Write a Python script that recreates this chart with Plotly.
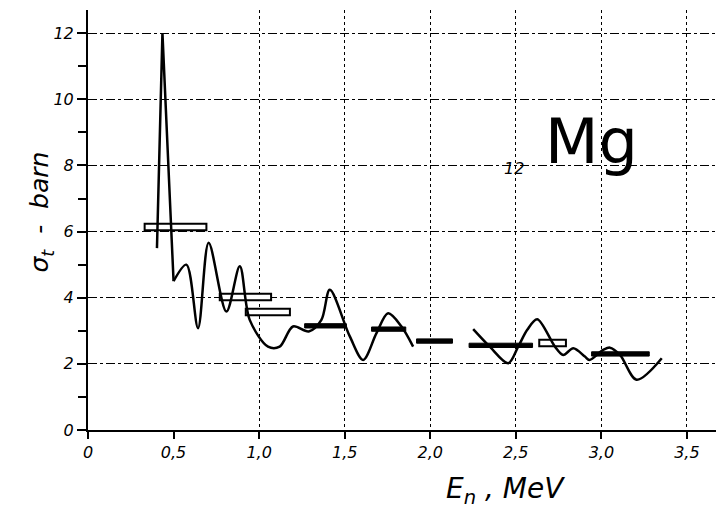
import plotly.graph_objects as go

# Spike (linear segment)
spike_x = [0.403, 0.435, 0.50]
spike_y = [5.5, 12.0, 4.5]

# First smooth curve
curve1_x = [0.50, 0.575, 0.643, 0.705, 0.809, 0.887, 0.945, 1.052, 1.12, 1.198, 1.29, 1.364, 1.413, 1.53, 1.608, 1.686, 1.754, 1.832, 1.90]
curve1_y = [4.5, 5.0, 3.08, 5.66, 3.58, 4.95, 3.33, 2.52, 2.52, 3.13, 2.98, 3.33, 4.24, 2.83, 2.12, 2.93, 3.53, 3.13, 2.52]

# Second smooth curve
curve2_x = [2.251, 2.348, 2.456, 2.514, 2.567, 2.625, 2.729, 2.777, 2.836, 2.904, 2.93, 3.011, 3.05, 3.109, 3.206, 3.353]
curve2_y = [3.05, 2.52, 2.02, 2.52, 3.03, 3.35, 2.52, 2.27, 2.47, 2.22, 2.12, 2.42, 2.49, 2.27, 1.52, 2.17]

# Averaged values (horizontal bars)
hollow_start = [0.331, 0.77, 0.922, 2.637]
hollow_end = [0.692, 1.07, 1.18, 2.793]
hollow_value = [6.14, 4.02, 3.57, 2.63]

filled_start = [1.266, 1.657, 1.92, 2.227, 2.943]
filled_end = [1.51, 1.857, 2.13, 2.598, 3.28]
filled_value = [3.15, 3.05, 2.69, 2.56, 2.30]

y_tickvals = [0, 2, 4, 6, 8, 10, 12]
y_ticktext = ["0", "2", "4", "6", "8", "10", "12"]
x_tickvals = [0, 0.5, 1.0, 1.5, 2.0, 2.5, 3.0, 3.5]
x_ticktext = ["0", "0,5", "1,0", "1,5", "2,0", "2,5", "3,0", "3,5"]
x_gridvals = [1.0, 1.5, 2.0, 2.5, 3.0, 3.5]

fig = go.Figure()

fig.add_trace(go.Bar(
    orientation="h",
    y=hollow_value,
    x=[e - s for s, e in zip(hollow_start, hollow_end)],
    base=hollow_start,
    width=0.2,
    marker=dict(color="white", line=dict(color="black", width=2)),
    showlegend=False,
))
fig.add_trace(go.Bar(
    orientation="h",
    y=filled_value,
    x=[e - s for s, e in zip(filled_start, filled_end)],
    base=filled_start,
    width=0.13,
    marker=dict(color="black", line=dict(color="black", width=1)),
    showlegend=False,
))

line_style = dict(color="black", width=2.5)
fig.add_trace(go.Scatter(x=spike_x, y=spike_y, mode="lines", line=line_style, showlegend=False))
fig.add_trace(go.Scatter(x=curve1_x, y=curve1_y, mode="lines",
                         line=dict(color="black", width=2.5, shape="spline", smoothing=0.9),
                         showlegend=False))
fig.add_trace(go.Scatter(x=curve2_x, y=curve2_y, mode="lines",
                         line=dict(color="black", width=2.5, shape="spline", smoothing=0.9),
                         showlegend=False))

tick_font = dict(family="DejaVu Sans", size=16, color="black", style="italic")

fig.update_layout(
    width=716, height=522,
    margin=dict(l=88, r=0, t=10, b=92),
    plot_bgcolor="white", paper_bgcolor="white",
    barmode="overlay",
    showlegend=False,
    xaxis=dict(
        range=[0, 3.67],
        tickvals=x_tickvals, ticktext=x_ticktext,
        ticks="outside", ticklen=7, tickwidth=2, tickcolor="black",
        showline=True, linecolor="black", linewidth=2,
        showgrid=False, zeroline=False,
        tickfont=tick_font,
        minor=dict(tickvals=x_gridvals, showgrid=True, gridcolor="black",
                   griddash="dot", gridwidth=1, ticks=""),
    ),
    yaxis=dict(
        range=[0, 12.7],
        tickvals=y_tickvals, ticktext=y_ticktext,
        ticks="outside", ticklen=9, tickwidth=2, tickcolor="black",
        showline=True, linecolor="black", linewidth=2,
        showgrid=True, gridcolor="black", griddash="dashdot", gridwidth=1.2,
        zeroline=False,
        tickfont=tick_font,
        minor=dict(dtick=1, ticks="outside", ticklen=8, tickwidth=2, tickcolor="black", showgrid=False),
    ),
    annotations=[
        dict(text="σ<sub>t</sub>  -  barn", xref="paper", yref="paper",
             x=-0.075, y=0.52, xanchor="center", yanchor="middle",
             textangle=-90, showarrow=False,
             font=dict(family="DejaVu Sans", size=25, color="black", style="italic")),
        dict(text="E<sub>n</sub> , MeV", xref="paper", yref="paper",
             x=0.665, y=-0.145, xanchor="center", yanchor="middle",
             showarrow=False,
             font=dict(family="DejaVu Sans", size=28, color="black", style="italic")),
        dict(text="Mg", xref="x", yref="y", x=2.66, y=7.55,
             xanchor="left", yanchor="bottom", showarrow=False,
             font=dict(family="DejaVu Sans", size=62, color="black")),
        dict(text="12", xref="x", yref="y", x=2.42, y=7.9,
             xanchor="left", yanchor="middle", showarrow=False,
             font=dict(family="DejaVu Sans", size=16, color="black", style="italic")),
    ],
)

fig.write_html("out.html")
